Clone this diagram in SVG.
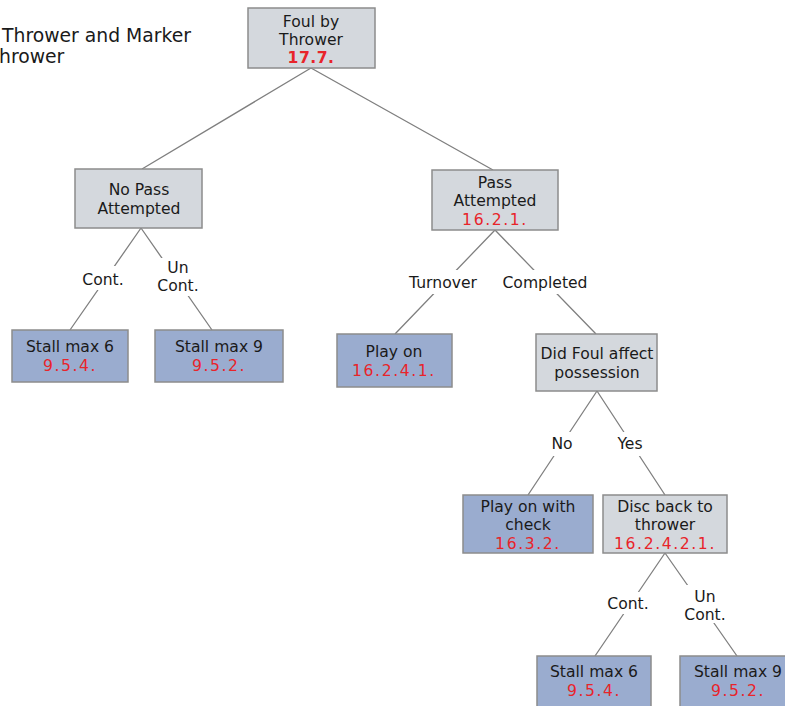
<svg xmlns="http://www.w3.org/2000/svg" width="785" height="706" viewBox="0 0 785 706">
<style>
.g{fill:#d4d8dd;stroke:#8c8c8c;stroke-width:1.5}
.b{fill:#9aaccf;stroke:#8c8c8c;stroke-width:1.5}
text{font-family:"DejaVu Sans","Verdana",sans-serif;font-size:15.6px;fill:#1a1a1a;text-anchor:middle}
.r{fill:#e8242a;letter-spacing:1.6px}
.l{fill:none;stroke:#7f7f7f;stroke-width:1.3}
.lb{fill:#ffffff}
</style>
<rect width="785" height="706" fill="#ffffff"/>
<text x="2" y="42" style="text-anchor:start;font-size:18.8px">Thrower and Marker</text>
<text x="-1" y="63" style="text-anchor:start;font-size:18.8px">hrower</text>
<g id="connectors">
<path class="l" d="M311 68L142 169M311 68L493 170"/>
<path class="l" d="M141 228L70 330M141 228L212 330"/>
<path class="l" d="M495 230L395 334M495 230L596 334"/>
<path class="l" d="M597 391L528 495M597 391L665 495"/>
<path class="l" d="M665 553L595 656M665 553L737 656"/>
<rect class="lb" x="78" y="266" width="50" height="24"/>
<rect class="lb" x="156" y="258" width="46" height="38"/>
<rect class="lb" x="402" y="270" width="82" height="24"/>
<rect class="lb" x="498" y="270" width="94" height="24"/>
<rect class="lb" x="546" y="432" width="32" height="24"/>
<rect class="lb" x="610" y="432" width="40" height="24"/>
<rect class="lb" x="602" y="592" width="52" height="22"/>
<rect class="lb" x="681" y="585" width="48" height="38"/>
<text x="103" y="285">Cont.</text>
<text x="178" y="273">Un</text>
<text x="178" y="291">Cont.</text>
<text x="443" y="288">Turnover</text>
<text x="545" y="288">Completed</text>
<text x="562" y="449">No</text>
<text x="630" y="449">Yes</text>
<text x="628" y="609">Cont.</text>
<text x="705" y="602">Un</text>
<text x="705" y="620">Cont.</text>
</g>
<g id="root"><rect class="g" x="248" y="8" width="127" height="60"/><text x="311" y="27">Foul by</text><text x="311" y="45">Thrower</text><text class="r" x="311" y="63" style="font-weight:bold;letter-spacing:0.5px">17.7.</text></g>
<g id="nopass"><rect class="g" x="75" y="169" width="127" height="59"/><text x="139" y="195">No Pass</text><text x="139" y="214">Attempted</text></g>
<g id="pass"><rect class="g" x="432" y="170" width="126" height="60"/><text x="495" y="188">Pass</text><text x="495" y="206">Attempted</text><text class="r" x="495" y="225">16.2.1.</text></g>
<g id="stall6a"><rect class="b" x="12" y="330" width="116" height="52"/><text x="70" y="352">Stall max 6</text><text class="r" x="70" y="371">9.5.4.</text></g>
<g id="stall9a"><rect class="b" x="155" y="330" width="128" height="52"/><text x="219" y="352">Stall max 9</text><text class="r" x="219" y="371">9.5.2.</text></g>
<g id="playon"><rect class="b" x="337" y="334" width="115" height="53"/><text x="394" y="357">Play on</text><text class="r" x="394" y="376">16.2.4.1.</text></g>
<g id="didfoul"><rect class="g" x="536" y="334" width="121" height="57"/><text x="597" y="359">Did Foul affect</text><text x="597" y="378">possession</text></g>
<g id="playcheck"><rect class="b" x="463" y="495" width="130" height="58"/><text x="528" y="512">Play on with</text><text x="528" y="530">check</text><text class="r" x="528" y="549">16.3.2.</text></g>
<g id="discback"><rect class="g" x="603" y="495" width="124" height="58"/><text x="665" y="512">Disc back to</text><text x="665" y="530">thrower</text><text class="r" x="665" y="549">16.2.4.2.1.</text></g>
<g id="stall6b"><rect class="b" x="537" y="656" width="114" height="52"/><text x="594" y="677">Stall max 6</text><text class="r" x="594" y="696">9.5.4.</text></g>
<g id="stall9b"><rect class="b" x="680" y="656" width="120" height="52"/><text x="738" y="677">Stall max 9</text><text class="r" x="738" y="696">9.5.2.</text></g>
</svg>
